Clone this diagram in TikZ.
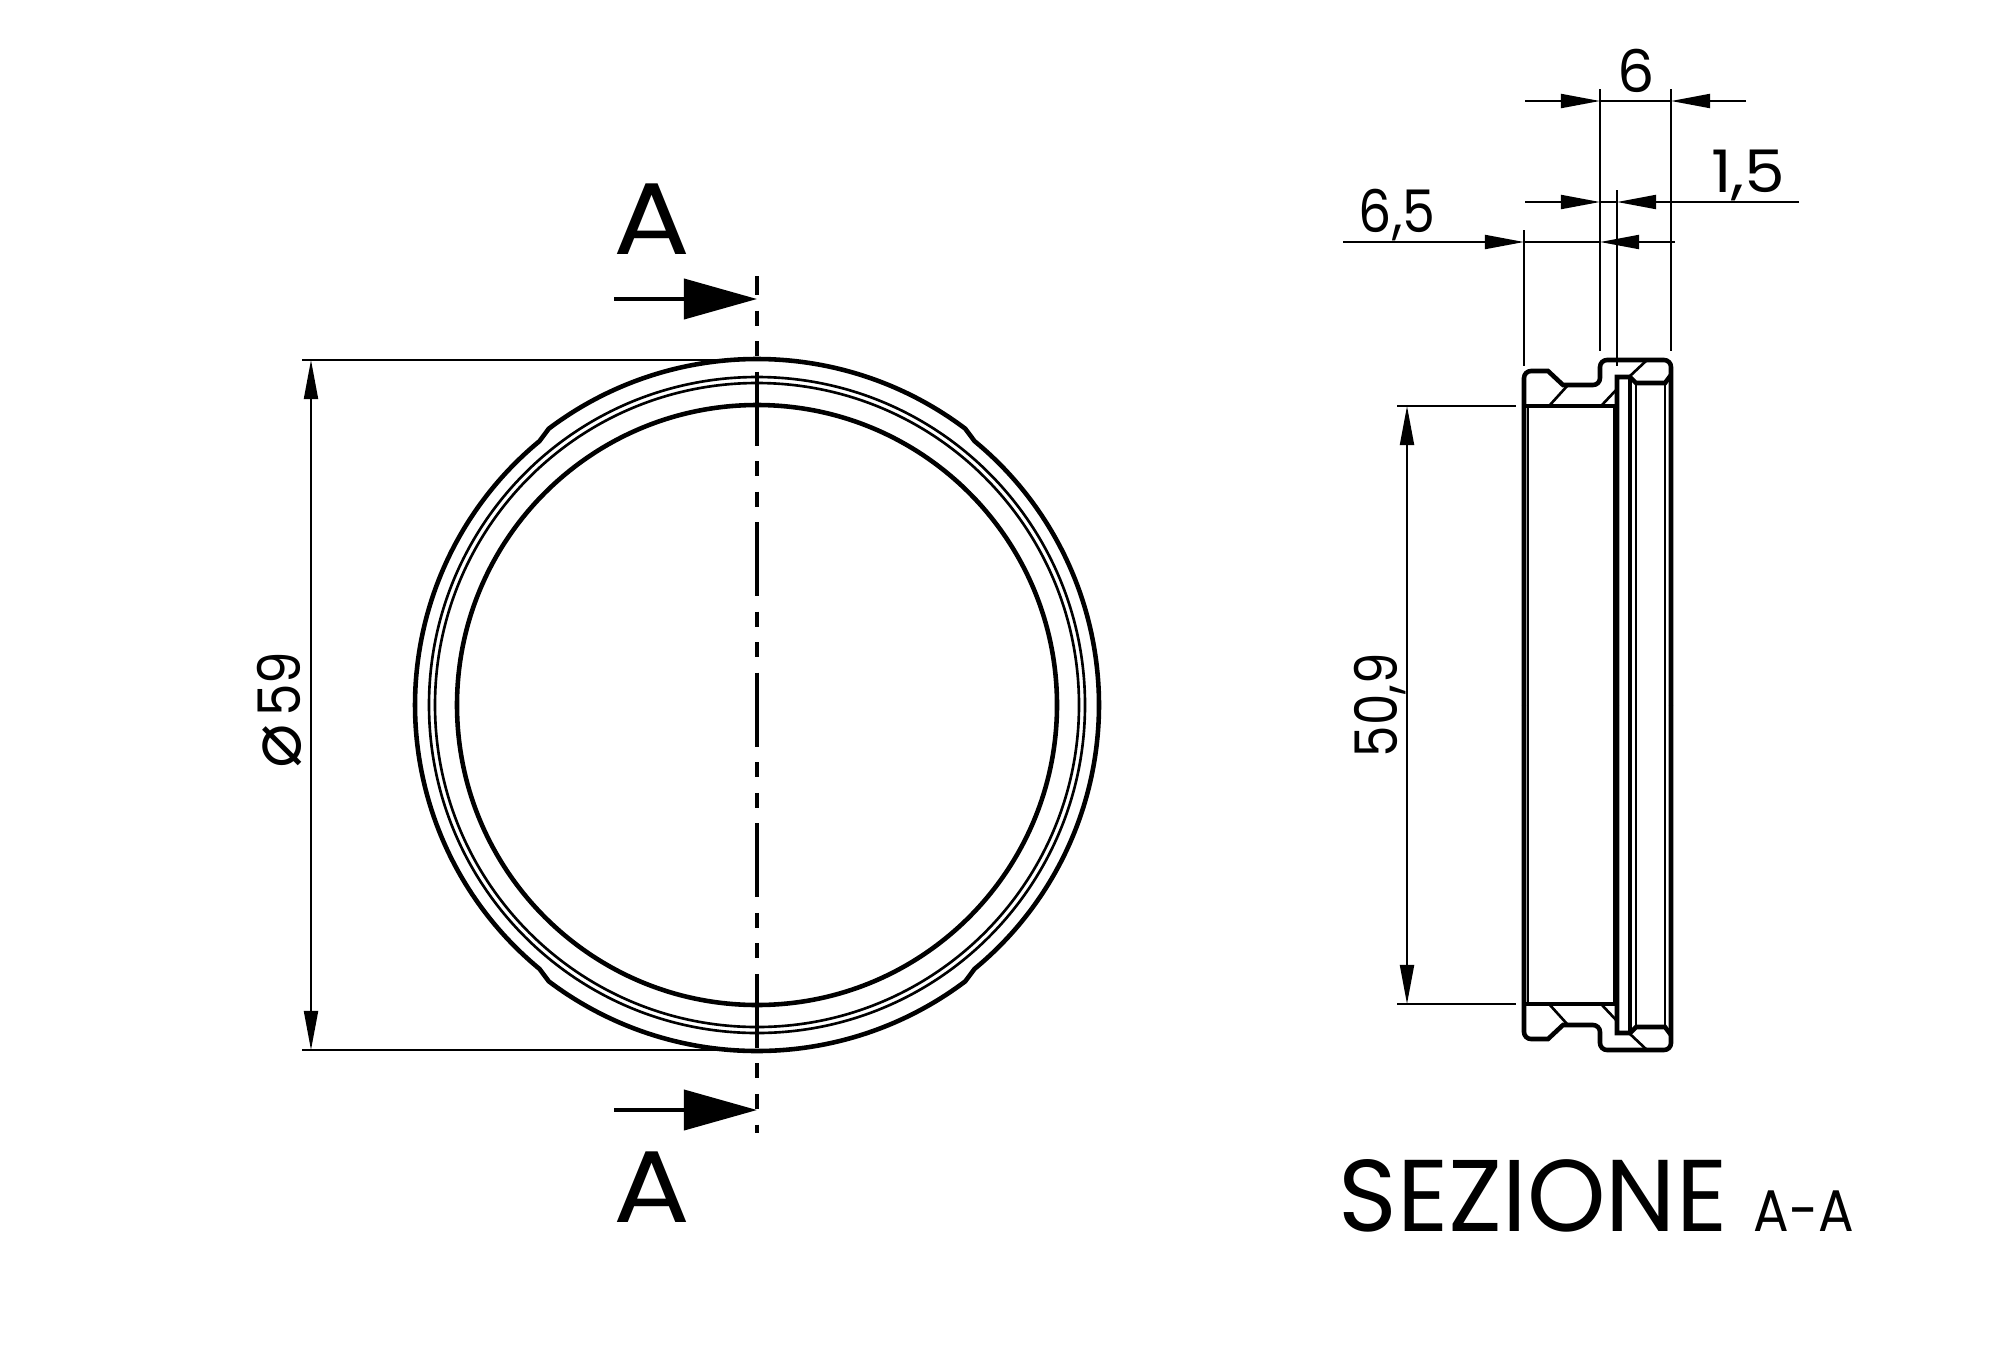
\documentclass[tikz,border=0pt]{standalone}
\usepackage{fontspec}
\setmainfont{Poppins}
\newfontfamily\symbfont{DejaVu Sans}
\usetikzlibrary{arrows.meta}
\tikzset{
	outline/.style={line width=1.3pt},
	ringline/.style={line width=0.75pt},
	dimline/.style={line width=0.55pt},
	axisline/.style={line width=1.1pt,dash pattern=on 0.74cm off 0.155cm on 0.15cm off 0.155cm on 0.15cm off 0.155cm,dash phase=0.55cm},
	cutarrow/.style={line width=1.1pt,-{Triangle[length=7.3mm,width=4mm]}},
	dimtext/.style={inner sep=0pt,anchor=base,font=\fontsize{16.7}{20}\selectfont},
	cuttext/.style={inner sep=0pt,anchor=base,font=\fontsize{29}{34}\selectfont}
}

\begin{document}
\begin{tikzpicture}[x=0.01cm,y=-0.01cm,>={Triangle[length=3.9mm,width=1.4mm]}]
	\useasboundingbox (0,0) rectangle (2000,1360);

	% Front view
	\begin{scope}[shift={(757,705)}]
	\draw[outline] (-127:346) arc[start angle=-127,end angle=-53,radius=346] -- (-50.5:342) arc[start angle=-50.5,end angle=50.5,radius=342] -- (53:346) arc[start angle=53,end angle=127,radius=346] -- (129.5:342) arc[start angle=129.5,end angle=230.5,radius=342] -- cycle; % Outer edge with the four steps
	\draw[ringline] (0,0) circle [radius=328];
	\draw[ringline] (0,0) circle [radius=322];
	\draw[outline] (0,0) circle [radius=300]; % Bore
	\end{scope}
	\draw[axisline] (757,276) -- (757,1133); % Cutting line

	% Cutting arrows
	\draw[cutarrow] (614,299) -- (757,299);
	\draw[cutarrow] (614,1110) -- (757,1110);
	\node[cuttext] (cuttop) at (652,254) {\scalebox{1.12}[1]{A}};
	\node[cuttext] (cutbottom) at (652,1222) {\scalebox{1.12}[1]{A}};

	% Diameter 59
	\draw[dimline] (302,360) -- (757,360);
	\draw[dimline] (302,1050) -- (757,1050);
	\draw[dimline,<->] (311,360) -- (311,1050);
	\node[dimtext,rotate=90] (diamtext) at (300,710) {{\symbfont\fontsize{21}{21}\selectfont ⌀}\hspace{2pt}\scalebox{0.88}[1]{59}};

	% Section A-A, the same half profile above and below the axis
	\foreach \side in {1,-1}{
	\begin{scope}[shift={(0,705)},yscale=\side]
	\draw[outline] (1524,0) [rounded corners=2pt] -- (1524,-334) [sharp corners] -- (1548,-334) -- (1563,-320) [rounded corners=2pt] -- (1600,-320) -- (1600,-345) -- (1671,-345) -- (1671,0); % Outer profile
	\draw[outline] (1524,-299) -- (1616,-299); % Bore
	\draw[ringline] (1549,-299) -- (1568,-320); % Hatching
	\draw[ringline] (1601,-299) -- (1617,-316);
	\draw[ringline] (1630,-329) -- (1647,-345);
	\draw[outline] (1617,0) -- (1617,-328) -- (1630,-328) -- (1636,-322) -- (1665,-322) -- (1671,-330); % Groove
	\draw[outline] (1630,0) -- (1630,-328);
	\draw[ringline] (1636,0) -- (1636,-322);
	\draw[ringline] (1665,0) -- (1665,-322);
	\draw[ringline] (1528,0) -- (1528,-299);
	\draw[line width=1.4pt] (1615.5,0) -- (1615.5,-299);
	\end{scope}
	}

	% Extension lines
	\draw[dimline] (1524,230) -- (1524,366);
	\draw[dimline] (1600,89) -- (1600,351);
	\draw[dimline] (1617,190) -- (1617,366);
	\draw[dimline] (1671,89) -- (1671,351);

	% Dimension 6
	\draw[dimline,->] (1525,101) -- (1600,101);
	\draw[dimline] (1600,101) -- (1671,101);
	\draw[dimline,->] (1746,101) -- (1671,101);
	\node[dimtext] (sixtext) at (1636,92) {6};

	% Dimension 1,5
	\draw[dimline,->] (1525,202) -- (1600,202);
	\draw[dimline] (1600,202) -- (1617,202);
	\draw[dimline,->] (1799,202) -- (1617,202);
	\node[dimtext] (stepwidth) at (1748,192) {\scalebox{1.1}[1]{1,5}};

	% Dimension 6,5
	\draw[dimline,->] (1343,242) -- (1524,242);
	\draw[dimline] (1524,242) -- (1600,242);
	\draw[dimline,->] (1675,242) -- (1600,242);
	\node[dimtext] (flangewidth) at (1397,232) {\scalebox{0.89}[1]{6,5}};

	% Bore 50,9
	\draw[dimline] (1397,406) -- (1516,406);
	\draw[dimline] (1397,1004) -- (1516,1004);
	\draw[dimline,<->] (1407,406) -- (1407,1004);
	\node[dimtext,rotate=90] (boretext) at (1397,705) {\scalebox{0.85}[1]{50,9}};

	% Title
	\node[cuttext] (sectitle) at (1533,1231) {\scalebox{0.98}[1]{SEZIONE}};
	\node[dimtext] (secname) at (1804,1231) {\scalebox{0.9}[1]{A-A}};
\end{tikzpicture}
\end{document}
